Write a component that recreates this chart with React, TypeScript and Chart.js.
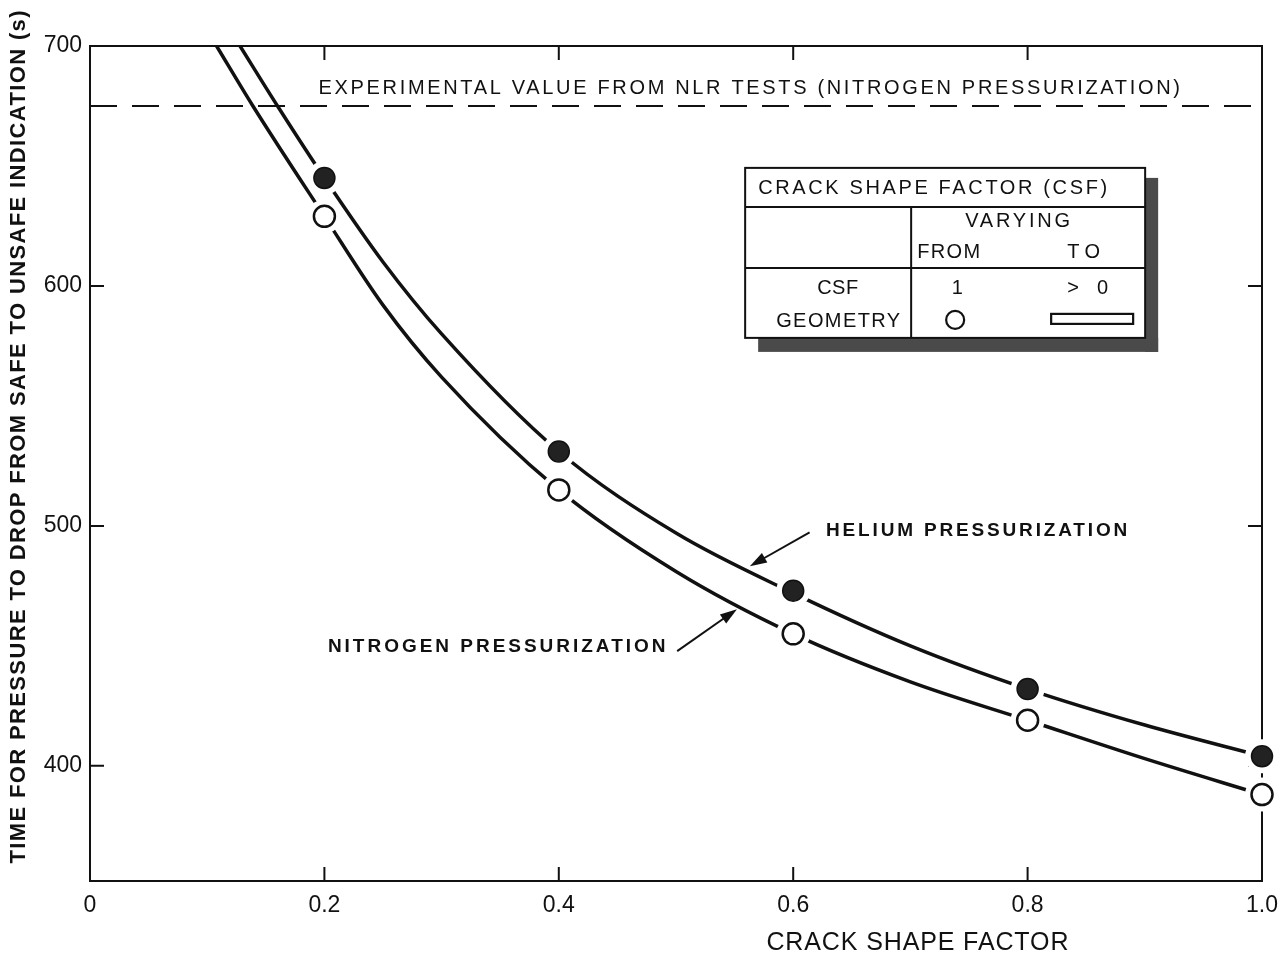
import { useEffect, useRef } from 'react';
import { Chart, registerables } from 'chart.js';

Chart.register(...registerables);

// ---- data ----
const xTicks = [0, 0.2, 0.4, 0.6, 0.8, 1.0];
const xTickLabels = ['0', '0.2', '0.4', '0.6', '0.8', '1.0'];
const yTicks = [400, 500, 600, 700];

const csfPoints = [0.2, 0.4, 0.6, 0.8, 1.0];
const heliumPoints = [645, 531, 473, 432, 404];
const nitrogenPoints = [629, 515, 455, 419, 388];

const heliumCurveX = [0.128, 0.16, 0.2, 0.25, 0.3, 0.4, 0.5, 0.6, 0.7, 0.8, 0.9, 1.0];
const heliumCurveY = [700, 675, 645, 610, 580, 531, 497, 472, 450, 432, 417, 404];
const nitrogenCurveX = [0.108, 0.139, 0.2, 0.25, 0.3, 0.4, 0.5, 0.6, 0.7, 0.8, 0.9, 1.0];
const nitrogenCurveY = [700, 675, 629, 592, 562, 515, 481, 455, 435, 419, 403, 388];

const experimentalValue = 675;

const xTitle = 'CRACK SHAPE FACTOR';
const yTitle = 'TIME FOR PRESSURE TO DROP FROM SAFE TO UNSAFE INDICATION (s)';
const expLabel = 'EXPERIMENTAL VALUE FROM NLR TESTS (NITROGEN PRESSURIZATION)';
const heliumLabel = 'HELIUM PRESSURIZATION';
const nitrogenLabel = 'NITROGEN PRESSURIZATION';

const legendTitle = 'CRACK SHAPE FACTOR (CSF)';
const legendVarying = 'VARYING';
const legendFrom = 'FROM';
const legendTo = 'TO';
const legendRow1 = ['CSF', '1', '> 0'];
const legendRow2 = 'GEOMETRY';

// ---- layout (data coordinates for annotation anchors) ----
const annot = {
  xTitle: { x: 0.706 },
  exp: { x: 0.195, y: 682.5, x2: 0.93 },
  he: { x: 0.628, y: 498, x2: 0.885, tailX: 0.614, tailY: 497.3, tipX: 0.563, tipY: 483.2 },
  n2: { x: 0.203, y: 449.5, x2: 0.491, tailX: 0.501, tailY: 447.8, tipX: 0.552, tipY: 465.3 },
  legend: { x: 0.559, y: 649.2 },
};

const INK = '#111';
const FONT = '"Liberation Sans", Arial, sans-serif';

function fitText(
  ctx: CanvasRenderingContext2D,
  text: string,
  x: number,
  y: number,
  width: number,
  font: string,
  align: 'left' | 'center' = 'left'
) {
  ctx.save();
  ctx.font = font;
  (ctx as any).letterSpacing = '0px';
  const w = ctx.measureText(text).width;
  const n = text.length;
  const ls = n > 1 ? (width - w) / (n - 1) : 0;
  (ctx as any).letterSpacing = ls + 'px';
  ctx.textBaseline = 'middle';
  ctx.textAlign = 'left';
  ctx.fillStyle = INK;
  const sx = align === 'center' ? x - width / 2 : x;
  ctx.fillText(text, sx, y);
  ctx.restore();
}

function arrow(ctx: CanvasRenderingContext2D, x1: number, y1: number, x2: number, y2: number) {
  const ang = Math.atan2(y2 - y1, x2 - x1);
  const L = 17;
  const H = 5.5;
  ctx.save();
  ctx.strokeStyle = INK;
  ctx.fillStyle = INK;
  ctx.lineWidth = 2;
  ctx.beginPath();
  ctx.moveTo(x1, y1);
  ctx.lineTo(x2 - Math.cos(ang) * L * 0.8, y2 - Math.sin(ang) * L * 0.8);
  ctx.stroke();
  ctx.beginPath();
  ctx.moveTo(x2, y2);
  ctx.lineTo(x2 - Math.cos(ang) * L - Math.sin(ang) * H, y2 - Math.sin(ang) * L + Math.cos(ang) * H);
  ctx.lineTo(x2 - Math.cos(ang) * L + Math.sin(ang) * H, y2 - Math.sin(ang) * L - Math.cos(ang) * H);
  ctx.closePath();
  ctx.fill();
  ctx.restore();
}

const framePlugin = {
  id: 'frame',
  beforeDatasetsDraw(chart: any) {
    const { ctx, chartArea: a, scales } = chart;
    ctx.save();
    ctx.strokeStyle = INK;
    ctx.lineWidth = 2;
    ctx.strokeRect(a.left, a.top, a.right - a.left, a.bottom - a.top);
    const T = 14;
    ctx.beginPath();
    yTicks.forEach((v) => {
      const py = scales.y.getPixelForValue(v);
      if (py <= a.top + 1) return;
      ctx.moveTo(a.left, py);
      ctx.lineTo(a.left + T, py);
      ctx.moveTo(a.right, py);
      ctx.lineTo(a.right - T, py);
    });
    xTicks.forEach((v) => {
      const px = scales.x.getPixelForValue(v);
      if (px <= a.left + 1 || px >= a.right - 1) return;
      ctx.moveTo(px, a.bottom);
      ctx.lineTo(px, a.bottom - T);
      ctx.moveTo(px, a.top);
      ctx.lineTo(px, a.top + T);
    });
    ctx.stroke();
    ctx.restore();
  },
  afterDatasetsDraw(chart: any) {
    const { ctx, scales } = chart;
    const X = (v: number) => scales.x.getPixelForValue(v);
    const Y = (v: number) => scales.y.getPixelForValue(v);

    // axis titles
    fitText(ctx, xTitle, X(annot.xTitle.x), 943, 302, `400 25px ${FONT}`, 'center');
    ctx.save();
    ctx.translate(19, 437);
    ctx.rotate(-Math.PI / 2);
    fitText(ctx, yTitle, 0, 0, 853, `bold 22px ${FONT}`, 'center');
    ctx.restore();

    // experimental label
    fitText(ctx, expLabel, X(annot.exp.x), Y(annot.exp.y), X(annot.exp.x2) - X(annot.exp.x), `500 20px ${FONT}`);

    // helium / nitrogen labels + arrows
    fitText(ctx, heliumLabel, X(annot.he.x), Y(annot.he.y), X(annot.he.x2) - X(annot.he.x), `bold 19px ${FONT}`);
    arrow(ctx, X(annot.he.tailX), Y(annot.he.tailY), X(annot.he.tipX), Y(annot.he.tipY));
    fitText(ctx, nitrogenLabel, X(annot.n2.x), Y(annot.n2.y), X(annot.n2.x2) - X(annot.n2.x), `bold 19px ${FONT}`);
    arrow(ctx, X(annot.n2.tailX), Y(annot.n2.tailY), X(annot.n2.tipX), Y(annot.n2.tipY));

    // legend table
    const bx = X(annot.legend.x);
    const by = Y(annot.legend.y);
    const bw = 400;
    const bh = 170;
    ctx.save();
    ctx.fillStyle = '#4a4a4a';
    ctx.fillRect(bx + bw, by + 10, 13, bh + 4);
    ctx.fillRect(bx + 13, by + bh, bw, 14);
    ctx.fillStyle = '#fff';
    ctx.fillRect(bx, by, bw, bh);
    ctx.strokeStyle = INK;
    ctx.lineWidth = 2;
    ctx.strokeRect(bx, by, bw, bh);
    ctx.beginPath();
    ctx.moveTo(bx, by + 39);
    ctx.lineTo(bx + bw, by + 39);
    ctx.moveTo(bx, by + 100);
    ctx.lineTo(bx + bw, by + 100);
    ctx.moveTo(bx + 166, by + 39);
    ctx.lineTo(bx + 166, by + bh);
    ctx.stroke();
    ctx.restore();

    const lf = `500 20px ${FONT}`;
    fitText(ctx, legendTitle, bx + 13, by + 21, 349, lf);
    fitText(ctx, legendVarying, bx + 220, by + 54, 105, lf);
    fitText(ctx, legendFrom, bx + 172, by + 85, 63, lf);
    fitText(ctx, legendTo, bx + 322, by + 85, 33, lf);
    fitText(ctx, legendRow1[0], bx + 72, by + 121, 41, lf);
    fitText(ctx, legendRow1[1], bx + 210, by + 121, 7, lf, 'center');
    fitText(ctx, legendRow1[2], bx + 322, by + 121, 41, lf);
    fitText(ctx, legendRow2, bx + 31, by + 154, 124, lf);
    ctx.save();
    ctx.strokeStyle = INK;
    ctx.lineWidth = 2.2;
    ctx.beginPath();
    ctx.arc(bx + 210, by + 152, 9, 0, Math.PI * 2);
    ctx.stroke();
    ctx.strokeRect(bx + 306, by + 146, 82, 10);
    ctx.restore();
  },
};

const toXY = (xs: number[], ys: number[]) => xs.map((x, i) => ({ x, y: ys[i] }));

export default function App() {
  const ref = useRef<HTMLCanvasElement>(null);
  useEffect(() => {
    document.body.style.margin = '0';
    const canvas = ref.current!;
    const chart = new Chart(canvas, {
      type: 'scatter',
      data: {
        datasets: [
          {
            label: 'Helium curve',
            data: toXY(heliumCurveX, heliumCurveY),
            showLine: true,
            borderColor: INK,
            borderWidth: 3.5,
            pointRadius: 0,
            cubicInterpolationMode: 'monotone',
            order: 5,
          } as any,
          {
            label: 'Nitrogen curve',
            data: toXY(nitrogenCurveX, nitrogenCurveY),
            showLine: true,
            borderColor: INK,
            borderWidth: 3.5,
            pointRadius: 0,
            cubicInterpolationMode: 'monotone',
            order: 5,
          },
          {
            label: 'Experimental value',
            data: [
              { x: 0, y: experimentalValue },
              { x: 1, y: experimentalValue },
            ],
            showLine: true,
            borderColor: INK,
            borderWidth: 2,
            borderDash: [27, 15],
            pointRadius: 0,
            order: 5,
          },
          {
            label: 'halo',
            data: [...toXY(csfPoints, heliumPoints), ...toXY(csfPoints, nitrogenPoints)],
            pointRadius: 17,
            pointBackgroundColor: '#fff',
            pointBorderWidth: 0,
            borderWidth: 0,
            clip: false,
            order: 3,
          },
          {
            label: 'Helium pressurization',
            data: toXY(csfPoints, heliumPoints),
            pointRadius: 10.5,
            pointBackgroundColor: '#222',
            pointBorderColor: INK,
            pointBorderWidth: 1.5,
            clip: false,
            order: 1,
          },
          {
            label: 'Nitrogen pressurization',
            data: toXY(csfPoints, nitrogenPoints),
            pointRadius: 10.5,
            pointBackgroundColor: '#fff',
            pointBorderColor: INK,
            pointBorderWidth: 2.5,
            clip: false,
            order: 1,
          },
        ],
      },
      options: {
        animation: false,
        responsive: false,
        maintainAspectRatio: false,
        layout: { padding: { left: 0, right: 23, top: 46, bottom: 0 } },
        plugins: { legend: { display: false }, tooltip: { enabled: false } },
        events: [],
        scales: {
          x: {
            type: 'linear',
            min: 0,
            max: 1,
            grid: { display: false, drawTicks: false },
            border: { display: false },
            afterFit: (s: any) => {
              s.height = 77;
              s.paddingLeft = 0;
              s.paddingRight = 0;
            },
            afterBuildTicks: (s: any) => {
              s.ticks = xTicks.map((v) => ({ value: v }));
            },
            ticks: {
              padding: 11,
              color: INK,
              font: { family: FONT, size: 23 },
              maxRotation: 0,
              autoSkip: false,
              callback: (v: any) => {
                const i = xTicks.findIndex((t) => Math.abs(t - Number(v)) < 1e-9);
                return i >= 0 ? xTickLabels[i] : '';
              },
            },
          },
          y: {
            type: 'linear',
            min: 352,
            max: 700,
            grid: { display: false, drawTicks: false },
            border: { display: false },
            afterFit: (s: any) => {
              s.width = 90;
              s.paddingTop = 0;
              s.paddingBottom = 0;
            },
            afterBuildTicks: (s: any) => {
              s.ticks = yTicks.map((v) => ({ value: v }));
            },
            ticks: {
              padding: 8,
              color: INK,
              font: { family: FONT, size: 23 },
              autoSkip: false,
            },
          },
        },
      },
      plugins: [framePlugin],
    });
    return () => chart.destroy();
  }, []);
  return (
    <div style={{ width: 1285, height: 958, position: 'relative', background: '#fff' }}>
      <canvas ref={ref} width={1285} height={958} style={{ display: 'block' }} />
    </div>
  );
}
